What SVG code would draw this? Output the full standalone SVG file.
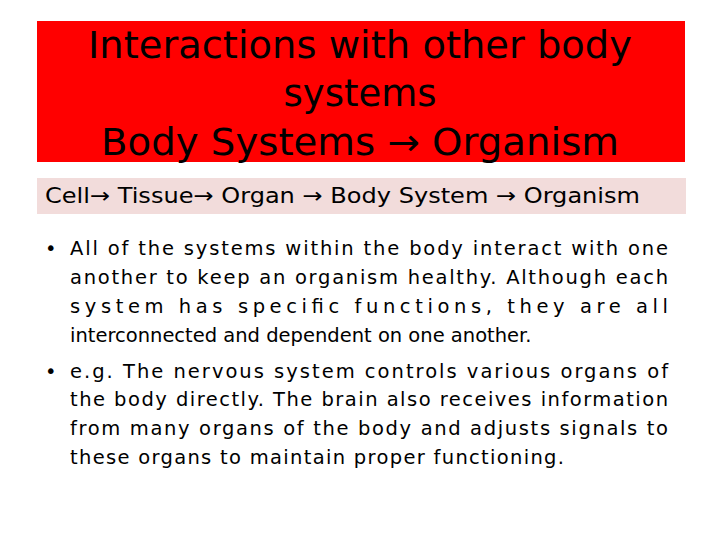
<svg xmlns="http://www.w3.org/2000/svg" width="720" height="540" viewBox="0 0 720 540">
<style>
.t{font-family:"DejaVu Sans",sans-serif;font-size:37px;fill:#000;text-anchor:middle}
.s{font-family:"DejaVu Sans",sans-serif;font-size:21px;fill:#000}
.b{font-family:"DejaVu Sans",sans-serif;font-size:19.5px;fill:#000}
</style>
<rect width="720" height="540" fill="#fff"/>
<g id="title">
<rect x="37" y="21" width="648" height="141" fill="#ff0000"/>
<text class="t" x="360" y="58" textLength="544" lengthAdjust="spacingAndGlyphs">Interactions with other body</text>
<text class="t" x="360" y="106">systems</text>
<text class="t" x="360" y="155" textLength="518" lengthAdjust="spacingAndGlyphs">Body Systems → Organism</text>
</g>
<g id="subtitle">
<rect x="37" y="178" width="649" height="36" fill="#f2dcdb"/>
<text class="s" x="45" y="203" textLength="595" lengthAdjust="spacingAndGlyphs">Cell→ Tissue→ Organ → Body System → Organism</text>
</g>
<g id="body">
<text class="b" x="45" y="255">•</text>
<text class="b" x="70" y="255" textLength="598" lengthAdjust="spacing">All of the systems within the body interact with one</text>
<text class="b" x="70" y="284" textLength="598" lengthAdjust="spacing">another to keep an organism healthy. Although each</text>
<text class="b" x="70" y="313" textLength="598" lengthAdjust="spacing">system has specific functions, they are all</text>
<text class="b" x="70" y="342">interconnected and dependent on one another.</text>
<text class="b" x="45" y="378">•</text>
<text class="b" x="70" y="378" textLength="598" lengthAdjust="spacing">e.g. The nervous system controls various organs of</text>
<text class="b" x="70" y="406" textLength="598" lengthAdjust="spacing">the body directly. The brain also receives information</text>
<text class="b" x="70" y="435" textLength="598" lengthAdjust="spacing">from many organs of the body and adjusts signals to</text>
<text class="b" x="70" y="464" textLength="494" lengthAdjust="spacing">these organs to maintain proper functioning.</text>
</g>
</svg>
